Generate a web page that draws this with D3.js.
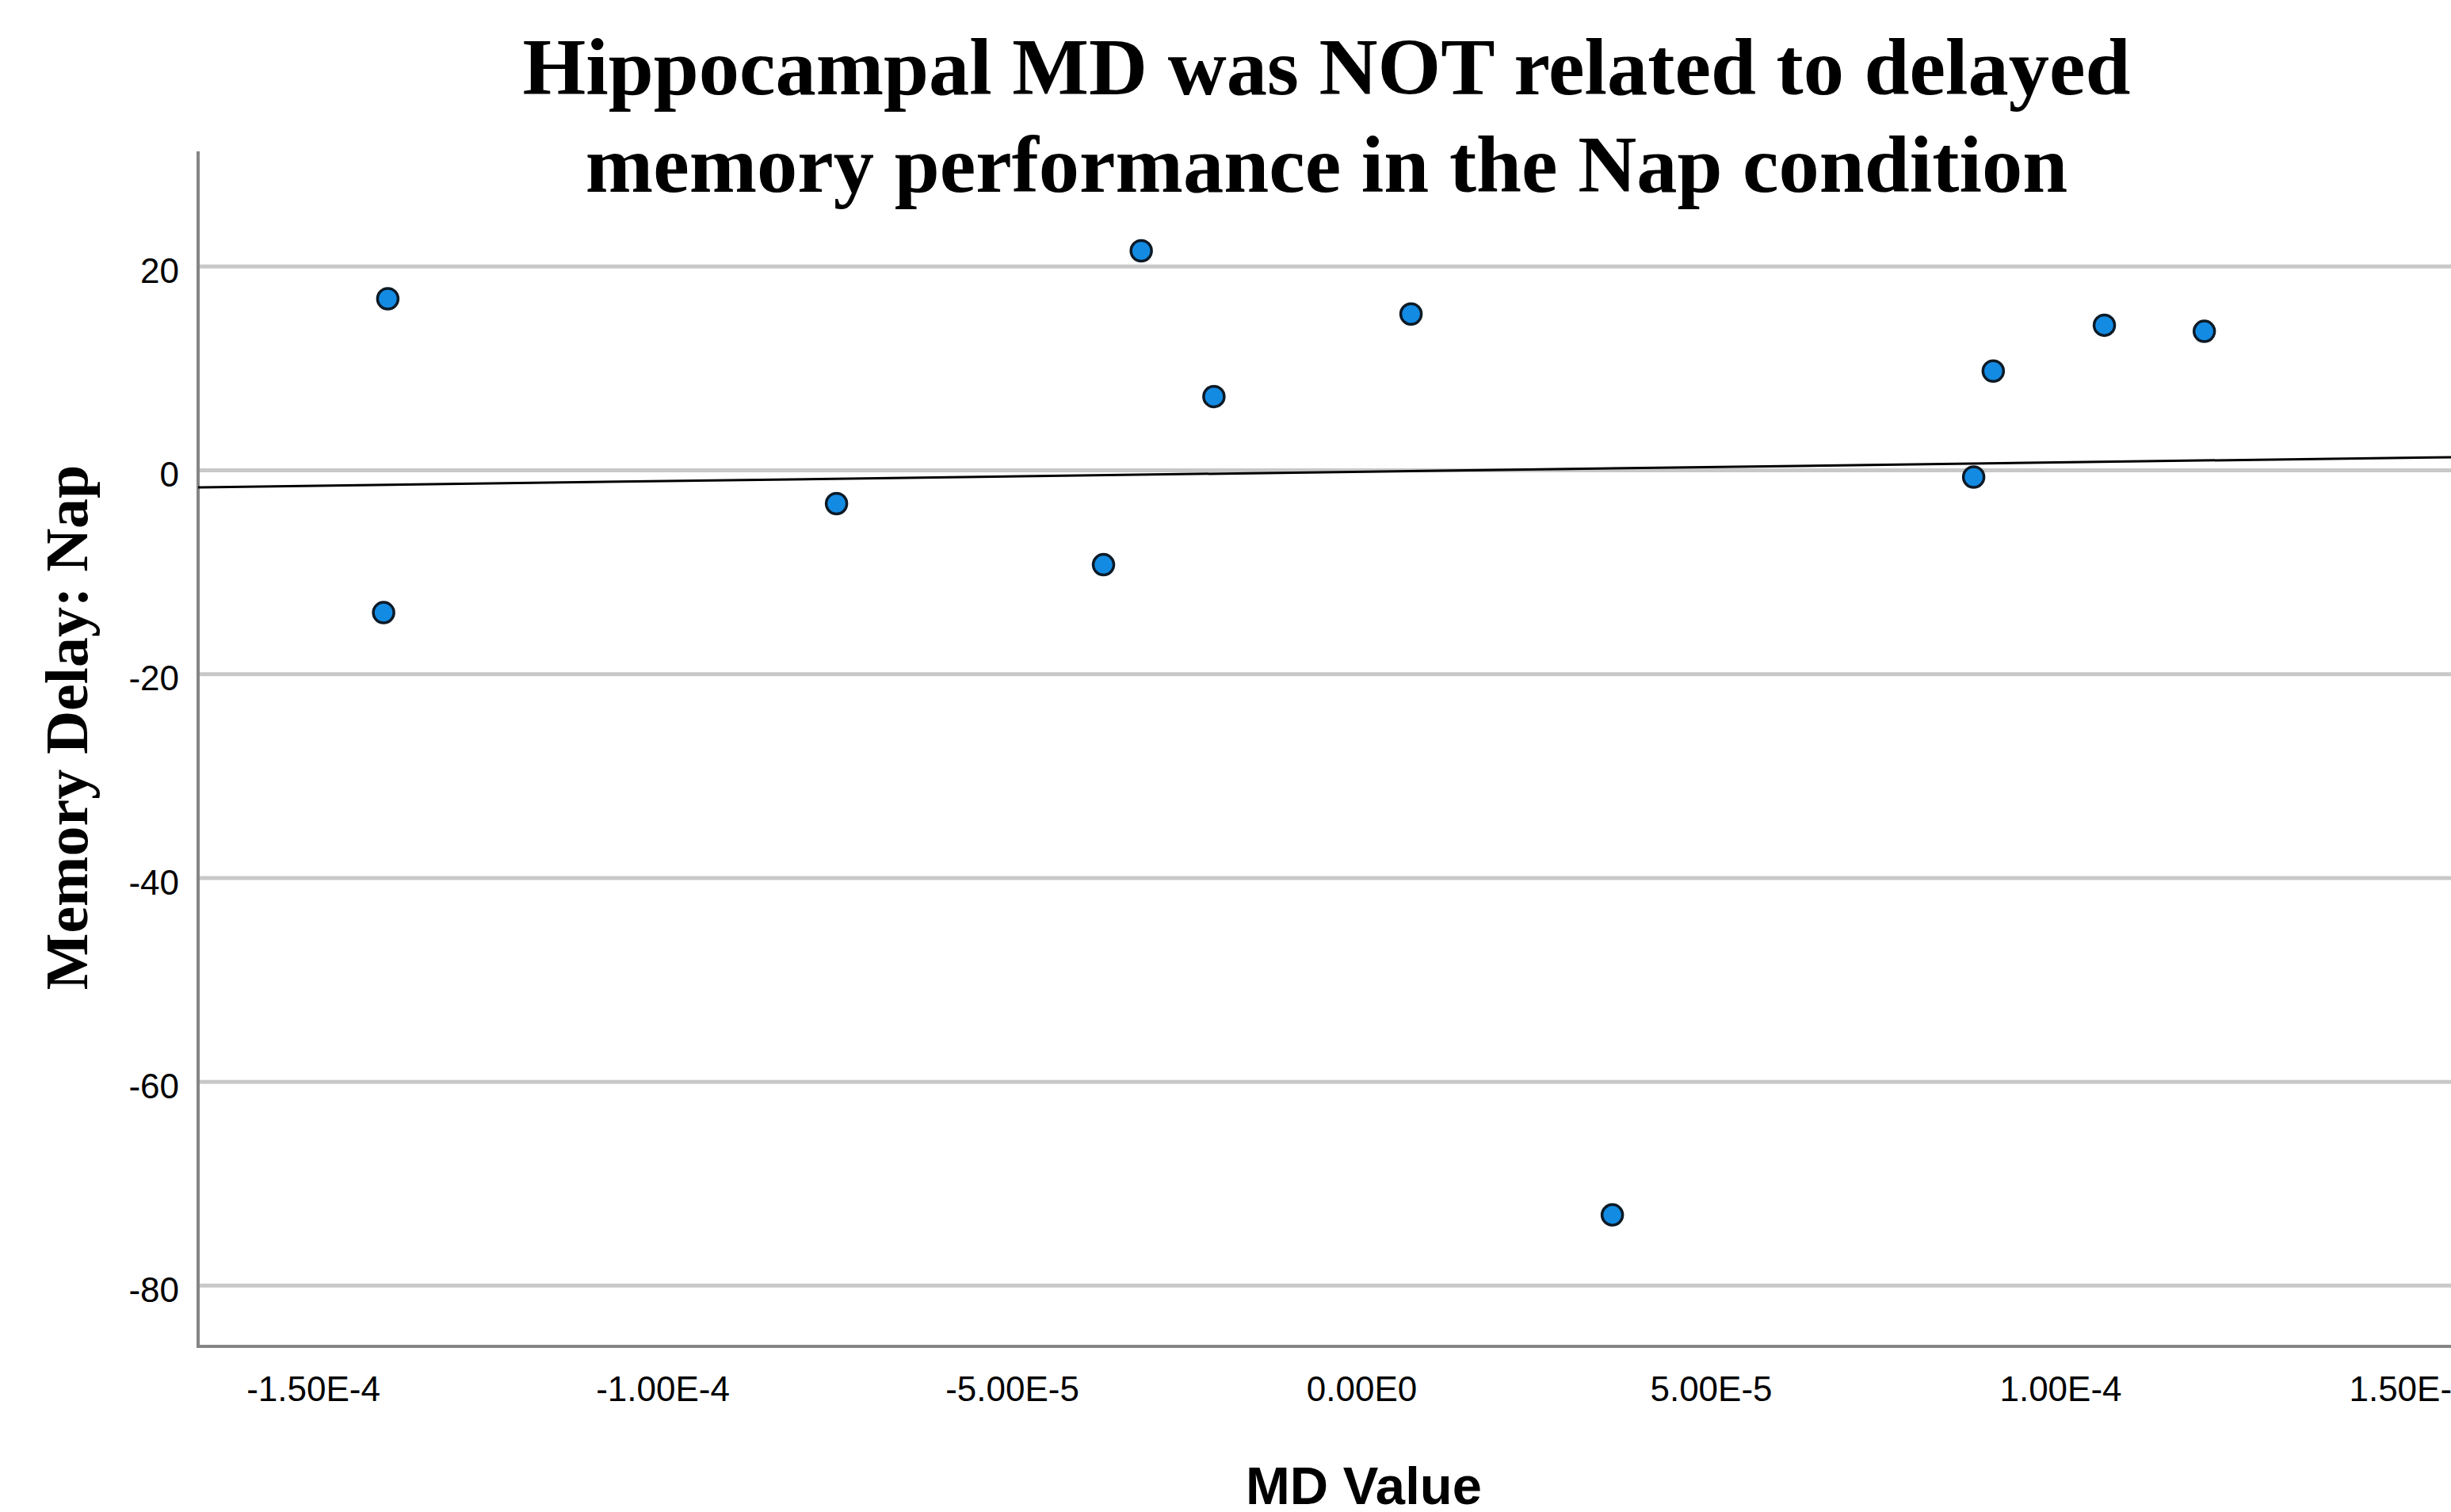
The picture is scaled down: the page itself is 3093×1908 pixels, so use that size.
<!DOCTYPE html>
<html>
<head>
<meta charset="utf-8">
<script src="https://cdn.jsdelivr.net/npm/d3@7"></script>
<style>
  body { margin: 0; background: white; }
  svg { display: block; }
</style>
</head>
<body>
<svg id="chart" width="3093" height="1908"></svg>
<script>
// MD value (x) and delayed memory score in the Nap condition (y)
const mdValues = [-1.393e-4, -1.399e-4, -7.51e-5, -3.69e-5, -3.15e-5, -2.11e-5,
                  7.1e-6, 3.59e-5, 8.76e-5, 9.04e-5, 1.063e-4, 1.206e-4];
const napScores = [16.8, -14.0, -3.3, -9.3, 21.5, 7.2, 15.3, -73.1, -0.7, 9.7, 14.2, 13.6];

const xTicks = [-1.5e-4, -1.0e-4, -5.0e-5, 0, 5.0e-5, 1.0e-4, 1.5e-4];
const yTicks = [-80, -60, -40, -20, 0, 20];

const titleLines = ["Hippocampal MD was NOT related to delayed",
                    "memory performance in the Nap condition"];
const xTitle = "MD Value";
const yTitle = "Memory Delay: Nap";

const svg = d3.select("#chart");

// plot frame (the right side runs past the picture edge, like the original)
const plotLeft = 250, plotRight = 3186, plotTop = 191, plotBottom = 1699;

const x = d3.scaleLinear()
    .domain([-1.6644e-4, 1.6644e-4])
    .range([plotLeft, plotRight]);

const y = d3.scaleLinear()
    .domain([-86.0, 31.26])
    .range([plotBottom, plotTop]);

const sciFormat = d => d.toExponential(2).replace("e+", "E").replace("e", "E");

// horizontal gridlines
svg.append("g")
    .attr("class", "grid")
    .attr("transform", `translate(${plotLeft},0)`)
    .call(d3.axisLeft(y).tickValues(yTicks).tickSize(-(plotRight - plotLeft)).tickFormat(""))
    .call(g => g.select(".domain").remove())
    .call(g => g.selectAll("line")
        .attr("stroke", "#c8c8c8")
        .attr("stroke-width", 5));

// axes lines
svg.append("line")
    .attr("x1", plotLeft).attr("x2", plotLeft)
    .attr("y1", plotTop).attr("y2", plotBottom + 2)
    .attr("stroke", "#858585")
    .attr("stroke-width", 4);

svg.append("line")
    .attr("x1", plotLeft - 2).attr("x2", plotRight)
    .attr("y1", plotBottom).attr("y2", plotBottom)
    .attr("stroke", "#858585")
    .attr("stroke-width", 4);

// tick labels
svg.append("g")
    .attr("transform", `translate(0,${plotBottom})`)
    .call(d3.axisBottom(x).tickValues(xTicks).tickSize(0).tickPadding(38).tickFormat(sciFormat))
    .call(g => g.select(".domain").remove())
    .call(g => g.selectAll("text")
        .attr("font-family", "Arial, 'Liberation Sans', sans-serif")
        .attr("font-size", 44)
        .attr("fill", "#000"));

svg.append("g")
    .attr("transform", `translate(${plotLeft},0)`)
    .call(d3.axisLeft(y).tickValues(yTicks).tickSize(0).tickPadding(24).tickFormat(d => `${d}`))
    .call(g => g.select(".domain").remove())
    .call(g => g.selectAll("text")
        .attr("dy", "0.47em")
        .attr("font-family", "Arial, 'Liberation Sans', sans-serif")
        .attr("font-size", 44)
        .attr("fill", "#000"));

// least squares fit line
const points = mdValues.map((v, i) => ({x: v, y: napScores[i]}));
const mx = d3.mean(points, d => d.x), my = d3.mean(points, d => d.y);
const slope = d3.sum(points, d => (d.x - mx) * (d.y - my)) / d3.sum(points, d => (d.x - mx) ** 2);
const intercept = my - slope * mx;
const xd = x.domain();

svg.append("line")
    .attr("x1", x(xd[0])).attr("y1", y(intercept + slope * xd[0]))
    .attr("x2", x(xd[1])).attr("y2", y(intercept + slope * xd[1]))
    .attr("stroke", "#000")
    .attr("stroke-width", 3);

// points
svg.append("g")
  .selectAll("circle")
  .data(points)
  .enter().append("circle")
    .attr("cx", d => x(d.x))
    .attr("cy", d => y(d.y))
    .attr("r", 13)
    .attr("fill", "#138be3")
    .attr("stroke", "#0d1a26")
    .attr("stroke-width", 3.5);

// titles
svg.append("g")
  .selectAll("text")
  .data(titleLines)
  .enter().append("text")
    .attr("x", 1674)
    .attr("y", (d, i) => 119 + i * 123)
    .attr("text-anchor", "middle")
    .attr("font-family", "'Times New Roman', 'Liberation Serif', serif")
    .attr("font-weight", "bold")
    .attr("font-size", 102.5)
    .text(d => d);

svg.append("text")
    .attr("x", 1721)
    .attr("y", 1898)
    .attr("text-anchor", "middle")
    .attr("font-family", "Arial, 'Liberation Sans', sans-serif")
    .attr("font-weight", "bold")
    .attr("font-size", 67)
    .text(xTitle);

svg.append("text")
    .attr("transform", "translate(110,918) rotate(-90)")
    .attr("text-anchor", "middle")
    .attr("font-family", "'Times New Roman', 'Liberation Serif', serif")
    .attr("font-weight", "bold")
    .attr("font-size", 76)
    .text(yTitle);
</script>
</body>
</html>
